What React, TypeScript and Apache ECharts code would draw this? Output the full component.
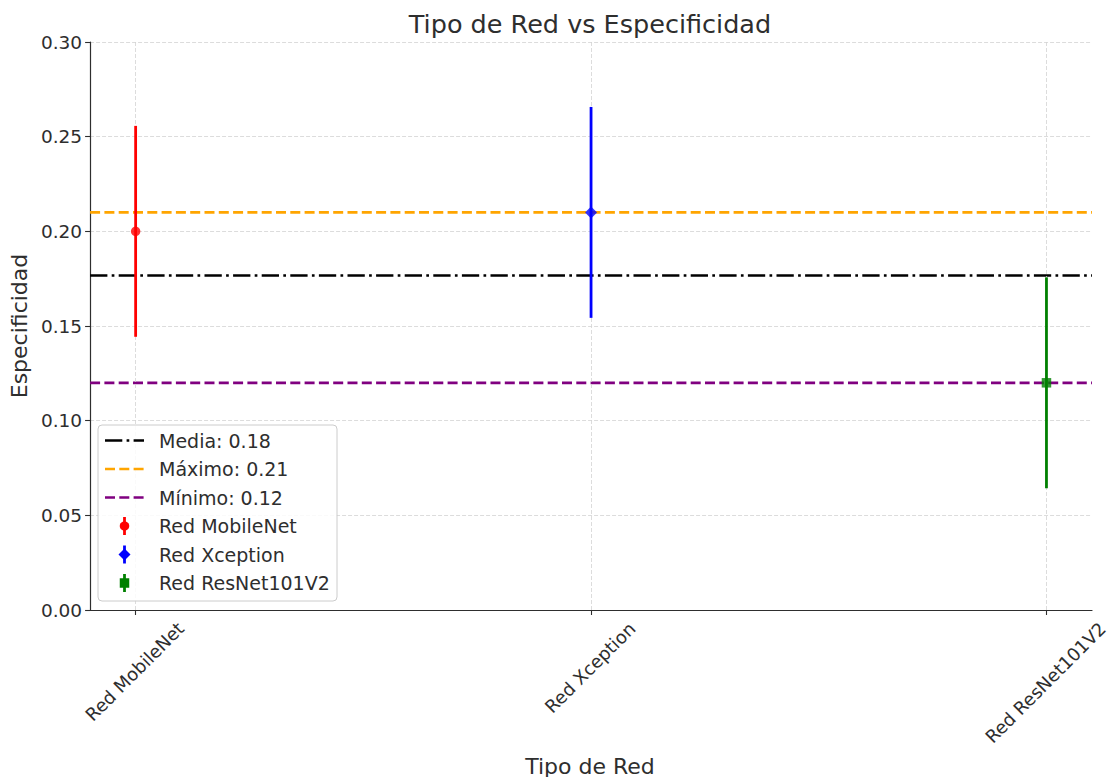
import React, { useEffect, useRef } from "react";
import * as echarts from "echarts";

// Networks and their measured specificity with error half-widths
const categories = ["Red MobileNet", "Red Xception", "Red ResNet101V2"];
const especificidad = [0.2, 0.21, 0.12];
const errores = [0.0557, 0.0557, 0.0557];
const colores = ["#ff0000", "#0000ff", "#008000"];
const simbolos = ["circle", "diamond", "rect"];
const tamanos = [9.5, 12, 9.5];

// Y axis ticks
const yTicks = [0, 0.05, 0.1, 0.15, 0.2, 0.25, 0.3];

// Summary lines
const media = especificidad.reduce((a, b) => a + b, 0) / especificidad.length;
const maximo = Math.max(...especificidad);
const minimo = Math.min(...especificidad);
const refLabels = [
  `Media: ${media.toFixed(2)}`,
  `Máximo: ${maximo.toFixed(2)}`,
  `Mínimo: ${minimo.toFixed(2)}`,
];
const refValues = [media, maximo, minimo];
const refColors = ["#000000", "#ffa500", "#800080"];
const refDash = [
  [17.3, 4.3, 2.7, 4.3],
  [10, 4.3],
  [10, 4.3],
];

const X_MIN = -0.1;
const X_MAX = 2.1;
const FONT = '"DejaVu Sans", sans-serif';
const TEXT = "#2e2e2e";

const GRID = { left: 88, top: 42, width: 1004, height: 568 };

function measure(text: string, size: number): number {
  const c = document.createElement("canvas").getContext("2d")!;
  c.font = `${size}px "DejaVu Sans"`;
  return c.measureText(text).width;
}

export default function App() {
  const ref = useRef<HTMLDivElement>(null);

  useEffect(() => {
    if (!ref.current) return;
    const chart = echarts.init(ref.current, null, { renderer: "svg" });

    const refSeries = refLabels.map((name, i) => ({
      name,
      type: "line",
      data: [
        [X_MIN, refValues[i]],
        [X_MAX, refValues[i]],
      ],
      showSymbol: false,
      symbol: "none",
      z: 3,
      lineStyle: { color: refColors[i], width: 2.7, type: refDash[i], cap: "butt" },
      silent: true,
    }));

    const markerSeries = categories.map((name, i) => ({
      name,
      type: "scatter",
      data: [[i, especificidad[i]]],
      symbol: simbolos[i],
      symbolSize: tamanos[i],
      itemStyle: { color: colores[i] },
      z: 6,
      silent: true,
    }));

    chart.setOption({
      animation: false,
      backgroundColor: "#ffffff",
      grid: GRID,
      xAxis: {
        type: "value",
        min: X_MIN,
        max: X_MAX,
        axisLine: { show: true, onZero: false, lineStyle: { color: TEXT, width: 1.2 } },
        axisTick: {
          show: true,
          customValues: [0, 1, 2],
          length: 5,
          lineStyle: { color: TEXT, width: 1.1 },
        },
        axisLabel: { show: false },
        splitLine: { show: false },
      },
      yAxis: {
        type: "value",
        min: yTicks[0],
        max: yTicks[yTicks.length - 1],
        interval: 0.05,
        name: "Especificidad",
        nameLocation: "middle",
        nameGap: 51,
        nameRotate: 90,
        nameTextStyle: { fontFamily: FONT, fontSize: 22, color: TEXT },
        axisLine: { show: true, onZero: false, lineStyle: { color: TEXT, width: 1.2 } },
        axisTick: { show: true, length: 5, lineStyle: { color: TEXT, width: 1.1 } },
        axisLabel: {
          margin: 8,
          fontFamily: FONT,
          fontSize: 18.5,
          color: TEXT,
          formatter: (v: number) => v.toFixed(2),
        },
        splitLine: {
          show: true,
          lineStyle: { color: "#d3d3d3", width: 0.8, type: [4, 2] },
        },
      },
      series: [
        {
          name: "vgrid",
          type: "line",
          data: [[0, 0]],
          showSymbol: false,
          symbol: "none",
          lineStyle: { opacity: 0 },
          z: 1,
          silent: true,
          markLine: {
            silent: true,
            symbol: ["none", "none"],
            label: { show: false },
            lineStyle: { color: "#d3d3d3", width: 0.8, type: [4, 2] },
            data: [0, 1, 2].map((v) => ({ xAxis: v })),
          },
        },
        ...refSeries,
        {
          name: "errorbars",
          type: "custom",
          z: 5,
          silent: true,
          data: categories.map((_, i) => [i, especificidad[i], errores[i]]),
          encode: { x: 0, y: 1 },
          renderItem: (params: any, api: any) => {
            const x = api.value(0);
            const y = api.value(1);
            const e = api.value(2);
            const top = api.coord([x, y + e]);
            const bot = api.coord([x, y - e]);
            return {
              type: "line",
              shape: { x1: top[0], y1: top[1], x2: bot[0], y2: bot[1] },
              style: { stroke: colores[params.dataIndex], lineWidth: 2.8 },
            };
          },
        },
        ...markerSeries,
      ],
    });

    // Rotated category labels, centred under each tick
    const axisY = chart.convertToPixel({ yAxisIndex: 0 }, 0) as number;
    const labelSize = 18;
    const labelH = labelSize * 1.164;
    const catLabels = categories.map((c, i) => {
      const px = chart.convertToPixel({ xAxisIndex: 0 }, i) as number;
      const w = measure(c, labelSize);
      const half = ((w + labelH) * Math.SQRT1_2) / 2;
      return {
        type: "text",
        x: px - 1,
        y: axisY + 8 + half,
        rotation: Math.PI / 4,
        style: {
          text: c,
          fontFamily: FONT,
          fontSize: labelSize,
          fill: TEXT,
          align: "center",
          verticalAlign: "middle",
        },
      };
    });

    const centerX = GRID.left + GRID.width / 2;

    // Legend box
    const lgX = 98;
    const lgY = 425;
    const rowY = [440.5, 469, 497.5, 526, 554.5, 583];
    const legendItems: any[] = [
      {
        type: "rect",
        shape: { x: lgX, y: lgY, width: 239, height: 176, r: 4 },
        style: { fill: "rgba(255,255,255,0.85)", stroke: "#cccccc", lineWidth: 1 },
        z: 100,
      },
    ];
    refLabels.forEach((t, i) => {
      legendItems.push({
        type: "line",
        shape: { x1: 105, y1: rowY[i], x2: 144, y2: rowY[i] },
        style: { stroke: refColors[i], lineWidth: 2.7, lineDash: refDash[i] },
        z: 101,
      });
    });
    categories.forEach((c, j) => {
      const y = rowY[3 + j];
      const x = 124.5;
      legendItems.push({
        type: "line",
        shape: { x1: x, y1: y - 9, x2: x, y2: y + 9 },
        style: { stroke: colores[j], lineWidth: 2.8 },
        z: 101,
      });
      if (simbolos[j] === "circle") {
        legendItems.push({
          type: "circle",
          shape: { cx: x, cy: y, r: tamanos[j] / 2 },
          style: { fill: colores[j] },
          z: 102,
        });
      } else if (simbolos[j] === "diamond") {
        const h = tamanos[j] / 2;
        legendItems.push({
          type: "polygon",
          shape: { points: [[x, y - h], [x + h, y], [x, y + h], [x - h, y]] },
          style: { fill: colores[j] },
          z: 102,
        });
      } else {
        const h = tamanos[j] / 2;
        legendItems.push({
          type: "rect",
          shape: { x: x - h, y: y - h, width: tamanos[j], height: tamanos[j] },
          style: { fill: colores[j] },
          z: 102,
        });
      }
    });
    [...refLabels, ...categories].forEach((t, i) => {
      legendItems.push({
        type: "text",
        x: 159,
        y: rowY[i],
        style: {
          text: t,
          fontFamily: FONT,
          fontSize: 19,
          fill: TEXT,
          align: "left",
          verticalAlign: "middle",
        },
        z: 101,
      });
    });

    chart.setOption({
      graphic: [
        {
          type: "text",
          x: centerX,
          y: 24,
          style: {
            text: "Tipo de Red vs Especificidad",
            fontFamily: FONT,
            fontSize: 25.5,
            fill: TEXT,
            align: "center",
            verticalAlign: "middle",
          },
        },
        {
          type: "text",
          x: centerX,
          y: 766,
          style: {
            text: "Tipo de Red",
            fontFamily: FONT,
            fontSize: 22,
            fill: TEXT,
            align: "center",
            verticalAlign: "middle",
          },
        },
        ...catLabels,
        ...legendItems,
      ],
    });

    return () => chart.dispose();
  }, []);

  return (
    <div
      ref={ref}
      style={{ position: "fixed", left: 0, top: 0, width: 1110, height: 777, background: "#fff" }}
    />
  );
}
